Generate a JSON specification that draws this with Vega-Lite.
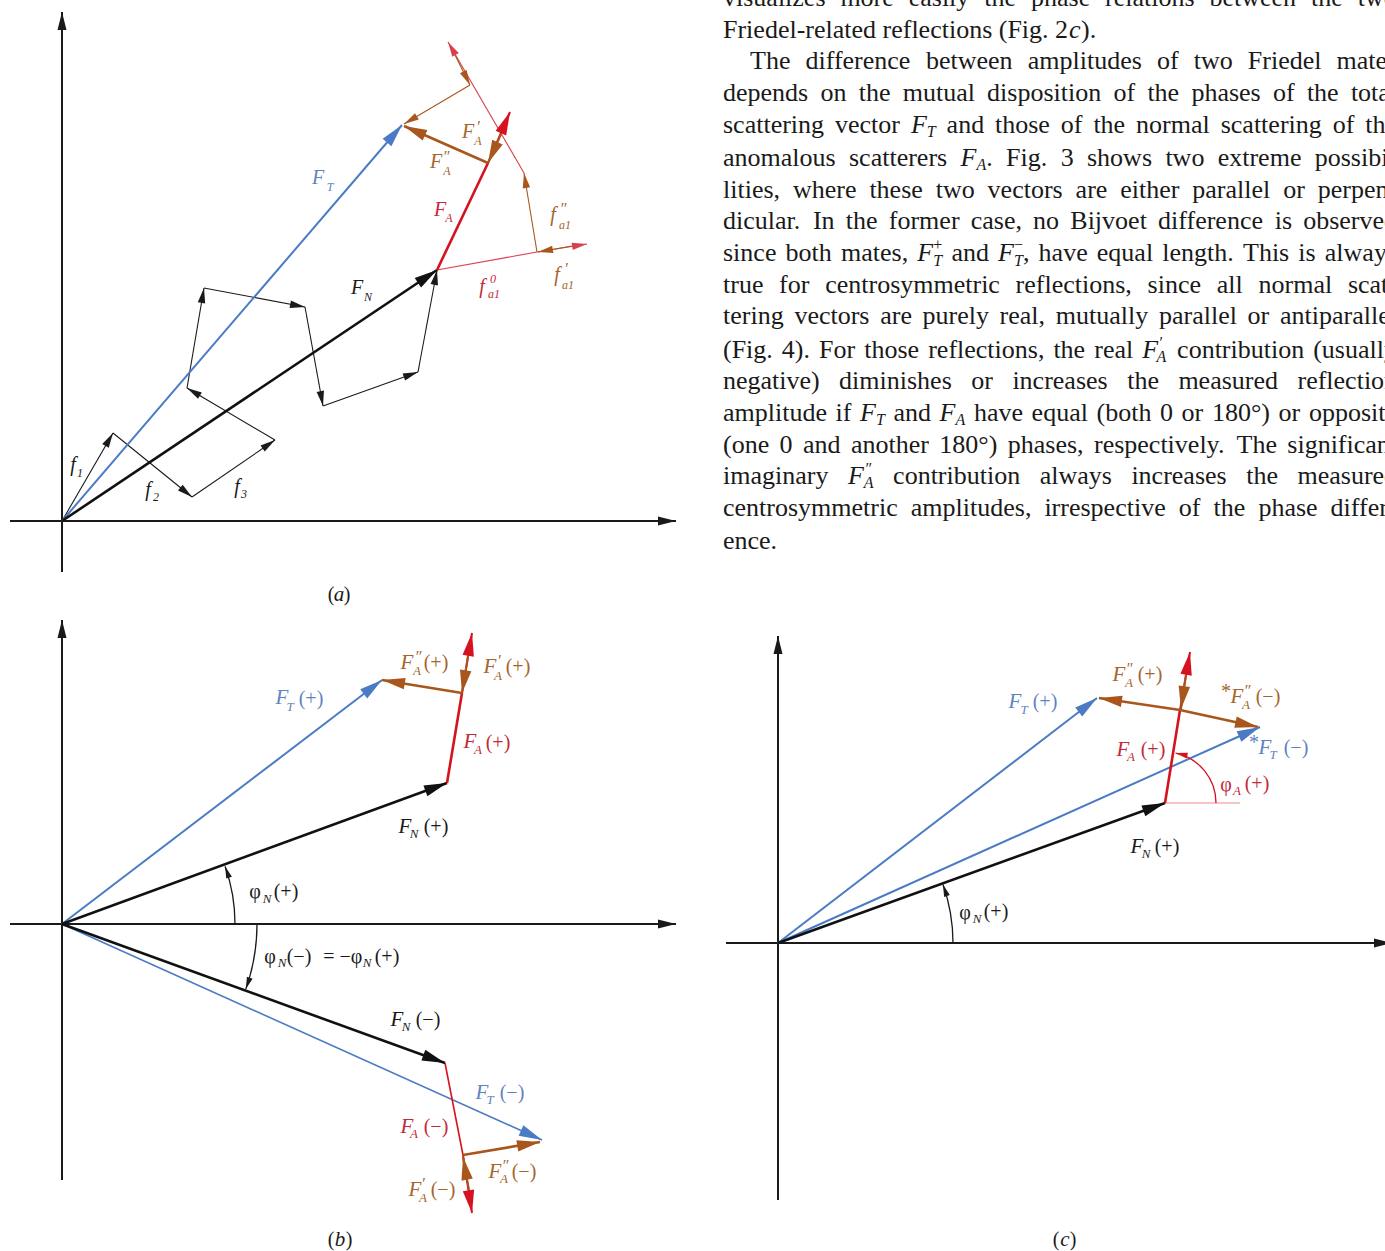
{
  "$schema": "https://vega.github.io/schema/vega-lite/v6.json",
  "width": 1385,
  "height": 1251,
  "autosize": {"type": "none"},
  "padding": 0,
  "background": "white",
  "config": {"view": {"stroke": null}},
  "datasets": {
    "segs": [
      {"f":"a","k":"axis","v":1,"x":62,"y":572,"x2":62,"y2":12},
      {"f":"a","k":"axis","v":1,"x":10,"y":521,"x2":676,"y2":521},
      {"f":"a","k":"atom","v":1,"x":62,"y":521,"x2":113,"y2":433},
      {"f":"a","k":"atom","v":1,"x":113,"y":433,"x2":192,"y2":497},
      {"f":"a","k":"atom","v":1,"x":192,"y":497,"x2":275,"y2":440},
      {"f":"a","k":"atom","v":1,"x":275,"y":440,"x2":187,"y2":388},
      {"f":"a","k":"atom","v":1,"x":187,"y":388,"x2":204,"y2":288},
      {"f":"a","k":"atom","v":1,"x":204,"y":288,"x2":305,"y2":307},
      {"f":"a","k":"atom","v":1,"x":305,"y":307,"x2":323,"y2":406},
      {"f":"a","k":"atom","v":1,"x":323,"y":406,"x2":418,"y2":372},
      {"f":"a","k":"atom","v":1,"x":418,"y":372,"x2":437,"y2":270},
      {"f":"a","k":"FT","v":1,"x":62,"y":521,"x2":402,"y2":125},
      {"f":"a","k":"FN","v":1,"x":62,"y":521,"x2":437,"y2":270},
      {"f":"a","k":"fa0","v":0,"x":437,"y":270,"x2":537,"y2":252},
      {"f":"a","k":"fa0","v":1,"x":537,"y":252,"x2":587,"y2":244},
      {"f":"a","k":"fa1","v":1,"x":572,"y":246,"x2":538,"y2":252},
      {"f":"a","k":"fa1","v":1,"x":537,"y":252,"x2":524,"y2":173},
      {"f":"a","k":"fa0","v":1,"x":524,"y":173,"x2":448,"y2":42},
      {"f":"a","k":"fa1","v":1,"x":455,"y":55,"x2":470,"y2":85},
      {"f":"a","k":"fa1","v":1,"x":470,"y":85,"x2":404,"y2":124},
      {"f":"a","k":"FA","v":0,"x":437,"y":270,"x2":488,"y2":163},
      {"f":"a","k":"f0","v":1,"x":488,"y":163,"x2":510,"y2":112},
      {"f":"a","k":"FA1","v":1,"x":507,"y":121,"x2":488,"y2":163},
      {"f":"a","k":"FA2","v":1,"x":488,"y":163,"x2":404,"y2":126},
      {"f":"b","k":"axis","v":1,"x":62,"y":1180,"x2":62,"y2":620},
      {"f":"b","k":"axis","v":1,"x":10,"y":924,"x2":676,"y2":924},
      {"f":"b","k":"FN","v":1,"x":62,"y":924,"x2":447,"y2":783},
      {"f":"b","k":"FT","v":1,"x":62,"y":924,"x2":382,"y2":680},
      {"f":"b","k":"FA","v":0,"x":447,"y":783,"x2":462,"y2":693},
      {"f":"b","k":"f0","v":1,"x":462,"y":693,"x2":472,"y2":633},
      {"f":"b","k":"FA1","v":1,"x":468,"y":656,"x2":462,"y2":693},
      {"f":"b","k":"FA2","v":1,"x":462,"y":693,"x2":382,"y2":680},
      {"f":"b","k":"FN","v":1,"x":62,"y":924,"x2":445,"y2":1063},
      {"f":"b","k":"FTt","v":1,"x":62,"y":924,"x2":542,"y2":1140},
      {"f":"b","k":"FAt","v":0,"x":445,"y":1063,"x2":463,"y2":1155},
      {"f":"b","k":"FA2","v":1,"x":463,"y":1155,"x2":540,"y2":1142},
      {"f":"b","k":"f0","v":1,"x":463,"y":1155,"x2":472,"y2":1213},
      {"f":"b","k":"FA1","v":1,"x":469,"y":1190,"x2":463,"y2":1157},
      {"f":"c","k":"axis","v":1,"x":778,"y":1200,"x2":778,"y2":636},
      {"f":"c","k":"axis","v":1,"x":726,"y":943,"x2":1392,"y2":943},
      {"f":"c","k":"FN","v":1,"x":778,"y":943,"x2":1165,"y2":803},
      {"f":"c","k":"FT","v":1,"x":778,"y":943,"x2":1097,"y2":698},
      {"f":"c","k":"FT","v":1,"x":778,"y":943,"x2":1260,"y2":727},
      {"f":"c","k":"FA","v":0,"x":1165,"y":803,"x2":1180,"y2":710},
      {"f":"c","k":"f0","v":1,"x":1180,"y":710,"x2":1190,"y2":652},
      {"f":"c","k":"FA1","v":1,"x":1186,"y":675,"x2":1181,"y2":709},
      {"f":"c","k":"FA2","v":1,"x":1180,"y":710,"x2":1099,"y2":698},
      {"f":"c","k":"FA2","v":1,"x":1180,"y":710,"x2":1258,"y2":727},
      {"f":"c","k":"ref","v":0,"x":1165,"y":803,"x2":1240,"y2":803}
    ],
    "arcs": [
      {"k":"arcK","x":62,"y":924,"r":173,"a":70.5,"a2":90},
      {"k":"arcK","x":62,"y":924,"r":195,"a":90,"a2":109.5},
      {"k":"arcK","x":778,"y":943,"r":175,"a":70.5,"a2":90},
      {"k":"arcR","x":1165,"y":803,"r":51,"a":12,"a2":90}
    ],
    "ah": [
      {"k":"arcK","x":228.4,"y":875.7,"x2":225.1,"y2":866.3},
      {"k":"arcK","x":249.1,"y":979.7,"x2":245.8,"y2":989.1},
      {"k":"arcK","x":946.3,"y":894,"x2":943,"y2":884.6},
      {"k":"arcR","x":1185.4,"y":755.2,"x2":1175.6,"y2":753.1}
    ],
    "txt": [
      {"r":"La","k":"tb","t":"F","x":318,"y":178},
      {"r":"Sa","k":"tb","t":"T","x":330,"y":187},
      {"r":"La","k":"tk","t":"F","x":357,"y":288},
      {"r":"Sa","k":"tk","t":"N","x":368,"y":297},
      {"r":"La","k":"tr","t":"F","x":440,"y":210},
      {"r":"Sa","k":"tr","t":"A","x":449,"y":218},
      {"r":"La","k":"tn","t":"F","x":468,"y":132},
      {"r":"P","k":"tn","t":"′","x":478,"y":127},
      {"r":"Sa","k":"tn","t":"A","x":478,"y":141},
      {"r":"La","k":"tn","t":"F","x":436,"y":162},
      {"r":"P","k":"tn","t":"″","x":446,"y":157},
      {"r":"Sa","k":"tn","t":"A","x":447,"y":171},
      {"r":"La","k":"tn","t":"f","x":553,"y":215},
      {"r":"P","k":"tn","t":"″","x":563,"y":209},
      {"r":"Sa","k":"tn","t":"a1","x":565,"y":225},
      {"r":"La","k":"tr","t":"f","x":482,"y":287},
      {"r":"Sa","k":"tr","t":"0","x":493,"y":279},
      {"r":"Sa","k":"tr","t":"a1","x":494,"y":294},
      {"r":"La","k":"tn","t":"f","x":557,"y":275},
      {"r":"P","k":"tn","t":"′","x":566,"y":269},
      {"r":"Sa","k":"tn","t":"a1","x":568,"y":285},
      {"r":"La","k":"tk","t":"f","x":73,"y":465},
      {"r":"Sa","k":"tk","t":"1","x":80,"y":473},
      {"r":"La","k":"tk","t":"f","x":148,"y":490},
      {"r":"Sa","k":"tk","t":"2","x":156,"y":497},
      {"r":"La","k":"tk","t":"f","x":237,"y":487},
      {"r":"Sa","k":"tk","t":"3","x":244,"y":494},
      {"r":"R","k":"tk","t":"(","x":331,"y":595},
      {"r":"L","k":"tk","t":"a","x":339,"y":595},
      {"r":"R","k":"tk","t":")","x":347,"y":595},

      {"r":"L","k":"tn","t":"F","x":407,"y":663},
      {"r":"P","k":"tn","t":"″","x":418,"y":657},
      {"r":"S","k":"tn","t":"A","x":417,"y":671},
      {"r":"R","k":"tn","t":"(+)","x":436,"y":663},
      {"r":"L","k":"tn","t":"F","x":490,"y":667},
      {"r":"P","k":"tn","t":"′","x":499,"y":661},
      {"r":"S","k":"tn","t":"A","x":498,"y":676},
      {"r":"R","k":"tn","t":"(+)","x":518,"y":667},
      {"r":"L","k":"tb","t":"F","x":282,"y":698},
      {"r":"S","k":"tb","t":"T","x":290,"y":707},
      {"r":"R","k":"tb","t":"(+)","x":311,"y":699},
      {"r":"L","k":"tr","t":"F","x":470,"y":742},
      {"r":"S","k":"tr","t":"A","x":478,"y":750},
      {"r":"R","k":"tr","t":"(+)","x":498,"y":743},
      {"r":"L","k":"tk","t":"F","x":405,"y":827},
      {"r":"S","k":"tk","t":"N","x":414,"y":834},
      {"r":"R","k":"tk","t":"(+)","x":436,"y":827},
      {"r":"R","k":"tk","t":"φ","x":255,"y":892},
      {"r":"S","k":"tk","t":"N","x":267,"y":899},
      {"r":"R","k":"tk","t":"(+)","x":286,"y":892},
      {"r":"R","k":"tk","t":"φ","x":270,"y":957},
      {"r":"S","k":"tk","t":"N","x":282,"y":963},
      {"r":"R","k":"tk","t":"(−)","x":299,"y":957},
      {"r":"R","k":"tk","t":"=","x":329,"y":957},
      {"r":"R","k":"tk","t":"−φ","x":351,"y":957},
      {"r":"S","k":"tk","t":"N","x":367,"y":963},
      {"r":"R","k":"tk","t":"(+)","x":387,"y":957},
      {"r":"L","k":"tk","t":"F","x":397,"y":1020},
      {"r":"S","k":"tk","t":"N","x":406,"y":1027},
      {"r":"R","k":"tk","t":"(−)","x":428,"y":1020},
      {"r":"L","k":"tb","t":"F","x":482,"y":1093},
      {"r":"S","k":"tb","t":"T","x":490,"y":1100},
      {"r":"R","k":"tb","t":"(−)","x":512,"y":1093},
      {"r":"L","k":"tr","t":"F","x":407,"y":1127},
      {"r":"S","k":"tr","t":"A","x":414,"y":1134},
      {"r":"R","k":"tr","t":"(−)","x":436,"y":1127},
      {"r":"L","k":"tn","t":"F","x":495,"y":1172},
      {"r":"P","k":"tn","t":"″","x":505,"y":1166},
      {"r":"S","k":"tn","t":"A","x":504,"y":1179},
      {"r":"R","k":"tn","t":"(−)","x":524,"y":1172},
      {"r":"L","k":"tn","t":"F","x":415,"y":1190},
      {"r":"P","k":"tn","t":"′","x":423,"y":1184},
      {"r":"S","k":"tn","t":"A","x":423,"y":1198},
      {"r":"R","k":"tn","t":"(−)","x":443,"y":1190},
      {"r":"R","k":"tk","t":"(","x":331,"y":1240},
      {"r":"L","k":"tk","t":"b","x":340,"y":1240},
      {"r":"R","k":"tk","t":")","x":349,"y":1240},

      {"r":"L","k":"tb","t":"F","x":1015,"y":702},
      {"r":"S","k":"tb","t":"T","x":1024,"y":710},
      {"r":"R","k":"tb","t":"(+)","x":1045,"y":702},
      {"r":"L","k":"tn","t":"F","x":1119,"y":675},
      {"r":"P","k":"tn","t":"″","x":1129,"y":669},
      {"r":"S","k":"tn","t":"A","x":1129,"y":683},
      {"r":"R","k":"tn","t":"(+)","x":1150,"y":675},
      {"r":"R","k":"tn","t":"*","x":1226,"y":692},
      {"r":"L","k":"tn","t":"F","x":1237,"y":697},
      {"r":"P","k":"tn","t":"″","x":1247,"y":691},
      {"r":"S","k":"tn","t":"A","x":1246,"y":705},
      {"r":"R","k":"tn","t":"(−)","x":1268,"y":697},
      {"r":"L","k":"tr","t":"F","x":1123,"y":750},
      {"r":"S","k":"tr","t":"A","x":1131,"y":757},
      {"r":"R","k":"tr","t":"(+)","x":1153,"y":750},
      {"r":"R","k":"tb","t":"*","x":1254,"y":743},
      {"r":"L","k":"tb","t":"F","x":1265,"y":748},
      {"r":"S","k":"tb","t":"T","x":1273,"y":755},
      {"r":"R","k":"tb","t":"(−)","x":1296,"y":748},
      {"r":"R","k":"tr","t":"φ","x":1226,"y":785},
      {"r":"S","k":"tr","t":"A","x":1237,"y":791},
      {"r":"R","k":"tr","t":"(+)","x":1257,"y":784},
      {"r":"L","k":"tk","t":"F","x":1137,"y":847},
      {"r":"S","k":"tk","t":"N","x":1146,"y":854},
      {"r":"R","k":"tk","t":"(+)","x":1167,"y":847},
      {"r":"R","k":"tk","t":"φ","x":965,"y":913},
      {"r":"S","k":"tk","t":"N","x":977,"y":919},
      {"r":"R","k":"tk","t":"(+)","x":996,"y":912},
      {"r":"R","k":"tk","t":"(","x":1056,"y":1240},
      {"r":"L","k":"tk","t":"c","x":1065,"y":1240},
      {"r":"R","k":"tk","t":")","x":1073,"y":1240},

      {"r":"B","k":"tk","t":"visualizes","x":723,"y":-2},
      {"r":"B","k":"tk","t":"more","x":840.4,"y":-2},
      {"r":"B","k":"tk","t":"easily","x":908.7,"y":-2},
      {"r":"B","k":"tk","t":"the","x":984.3,"y":-2},
      {"r":"B","k":"tk","t":"phase","x":1031,"y":-2},
      {"r":"B","k":"tk","t":"relations","x":1105.1,"y":-2},
      {"r":"B","k":"tk","t":"between","x":1209.5,"y":-2},
      {"r":"B","k":"tk","t":"the","x":1311,"y":-2},
      {"r":"B","k":"tk","t":"two","x":1357.7,"y":-2},

      {"r":"B","k":"tk","t":"Friedel-related reflections (Fig. 2","x":723,"y":30},
      {"r":"Bi","k":"tk","t":"c","x":1069,"y":30},
      {"r":"B","k":"tk","t":").","x":1081,"y":30},

      {"r":"B","k":"tk","t":"The","x":750,"y":61},
      {"r":"B","k":"tk","t":"difference","x":805.5,"y":61},
      {"r":"B","k":"tk","t":"between","x":926,"y":61},
      {"r":"B","k":"tk","t":"amplitudes","x":1027.7,"y":61},
      {"r":"B","k":"tk","t":"of","x":1156.9,"y":61},
      {"r":"B","k":"tk","t":"two","x":1193.7,"y":61},
      {"r":"B","k":"tk","t":"Friedel","x":1247.8,"y":61},
      {"r":"B","k":"tk","t":"mates","x":1336.6,"y":61},

      {"r":"B","k":"tk","t":"depends","x":723,"y":93},
      {"r":"B","k":"tk","t":"on","x":820.4,"y":93},
      {"r":"B","k":"tk","t":"the","x":858.7,"y":93},
      {"r":"B","k":"tk","t":"mutual","x":902.7,"y":93},
      {"r":"B","k":"tk","t":"disposition","x":987.1,"y":93},
      {"r":"B","k":"tk","t":"of","x":1113.5,"y":93},
      {"r":"B","k":"tk","t":"the","x":1147.4,"y":93},
      {"r":"B","k":"tk","t":"phases","x":1191.4,"y":93},
      {"r":"B","k":"tk","t":"of","x":1272.9,"y":93},
      {"r":"B","k":"tk","t":"the","x":1306.9,"y":93},
      {"r":"B","k":"tk","t":"total","x":1350.9,"y":93},

      {"r":"B","k":"tk","t":"scattering","x":723,"y":125},
      {"r":"B","k":"tk","t":"vector","x":835,"y":125},
      {"r":"Bi","k":"tk","t":"F","x":910.9,"y":125},
      {"r":"Bs","k":"tk","t":"T","x":926.8,"y":132},
      {"r":"B","k":"tk","t":"and","x":946.6,"y":125},
      {"r":"B","k":"tk","t":"those","x":995,"y":125},
      {"r":"B","k":"tk","t":"of","x":1060.8,"y":125},
      {"r":"B","k":"tk","t":"the","x":1093.4,"y":125},
      {"r":"B","k":"tk","t":"normal","x":1136.1,"y":125},
      {"r":"B","k":"tk","t":"scattering","x":1220.7,"y":125},
      {"r":"B","k":"tk","t":"of","x":1332.7,"y":125},
      {"r":"B","k":"tk","t":"the","x":1365.3,"y":125},

      {"r":"B","k":"tk","t":"anomalous","x":723,"y":158},
      {"r":"B","k":"tk","t":"scatterers","x":849,"y":158},
      {"r":"Bi","k":"tk","t":"F","x":960.6,"y":158},
      {"r":"Bs","k":"tk","t":"A","x":976.5,"y":165},
      {"r":"B","k":"tk","t":".","x":986.3,"y":158},
      {"r":"B","k":"tk","t":"Fig.","x":1006.1,"y":158},
      {"r":"B","k":"tk","t":"3","x":1060.7,"y":158},
      {"r":"B","k":"tk","t":"shows","x":1087,"y":158},
      {"r":"B","k":"tk","t":"two","x":1165.4,"y":158},
      {"r":"B","k":"tk","t":"extreme","x":1217.7,"y":158},
      {"r":"B","k":"tk","t":"possibi-","x":1314.7,"y":158},

      {"r":"B","k":"tk","t":"lities,","x":723,"y":190},
      {"r":"B","k":"tk","t":"where","x":793,"y":190},
      {"r":"B","k":"tk","t":"these","x":869.4,"y":190},
      {"r":"B","k":"tk","t":"two","x":935.7,"y":190},
      {"r":"B","k":"tk","t":"vectors","x":987.6,"y":190},
      {"r":"B","k":"tk","t":"are","x":1075.6,"y":190},
      {"r":"B","k":"tk","t":"either","x":1120.2,"y":190},
      {"r":"B","k":"tk","t":"parallel","x":1192.3,"y":190},
      {"r":"B","k":"tk","t":"or","x":1283.2,"y":190},
      {"r":"B","k":"tk","t":"perpen-","x":1317.8,"y":190},

      {"r":"B","k":"tk","t":"dicular.","x":723,"y":221},
      {"r":"B","k":"tk","t":"In","x":812.9,"y":221},
      {"r":"B","k":"tk","t":"the","x":845.8,"y":221},
      {"r":"B","k":"tk","t":"former","x":888.8,"y":221},
      {"r":"B","k":"tk","t":"case,","x":970.7,"y":221},
      {"r":"B","k":"tk","t":"no","x":1033.1,"y":221},
      {"r":"B","k":"tk","t":"Bijvoet","x":1070.3,"y":221},
      {"r":"B","k":"tk","t":"difference","x":1158.1,"y":221},
      {"r":"B","k":"tk","t":"is","x":1274.7,"y":221},
      {"r":"B","k":"tk","t":"observed","x":1303.2,"y":221},

      {"r":"B","k":"tk","t":"since","x":723,"y":253},
      {"r":"B","k":"tk","t":"both","x":785.6,"y":253},
      {"r":"B","k":"tk","t":"mates,","x":841,"y":253},
      {"r":"Bi","k":"tk","t":"F","x":917.3,"y":253},
      {"r":"Bp","k":"tk","t":"+","x":933.2,"y":245},
      {"r":"Bs","k":"tk","t":"T","x":933.2,"y":261},
      {"r":"B","k":"tk","t":"and","x":951.4,"y":253},
      {"r":"Bi","k":"tk","t":"F","x":998,"y":253},
      {"r":"Bp","k":"tk","t":"−","x":1013.9,"y":245},
      {"r":"Bs","k":"tk","t":"T","x":1013.9,"y":261},
      {"r":"B","k":"tk","t":",","x":1022.9,"y":253},
      {"r":"B","k":"tk","t":"have","x":1038.6,"y":253},
      {"r":"B","k":"tk","t":"equal","x":1096.8,"y":253},
      {"r":"B","k":"tk","t":"length.","x":1162.3,"y":253},
      {"r":"B","k":"tk","t":"This","x":1243,"y":253},
      {"r":"B","k":"tk","t":"is","x":1298.3,"y":253},
      {"r":"B","k":"tk","t":"always","x":1324.8,"y":253},

      {"r":"B","k":"tk","t":"true","x":723,"y":285},
      {"r":"B","k":"tk","t":"for","x":779.1,"y":285},
      {"r":"B","k":"tk","t":"centrosymmetric","x":825.2,"y":285},
      {"r":"B","k":"tk","t":"reflections,","x":1015.6,"y":285},
      {"r":"B","k":"tk","t":"since","x":1147.6,"y":285},
      {"r":"B","k":"tk","t":"all","x":1216.7,"y":285},
      {"r":"B","k":"tk","t":"normal","x":1258.5,"y":285},
      {"r":"B","k":"tk","t":"scat-","x":1347.9,"y":285},

      {"r":"B","k":"tk","t":"tering","x":723,"y":316},
      {"r":"B","k":"tk","t":"vectors","x":794.4,"y":316},
      {"r":"B","k":"tk","t":"are","x":880.2,"y":316},
      {"r":"B","k":"tk","t":"purely","x":922.5,"y":316},
      {"r":"B","k":"tk","t":"real,","x":999.6,"y":316},
      {"r":"B","k":"tk","t":"mutually","x":1055.8,"y":316},
      {"r":"B","k":"tk","t":"parallel","x":1159,"y":316},
      {"r":"B","k":"tk","t":"or","x":1247.6,"y":316},
      {"r":"B","k":"tk","t":"antiparallel","x":1280,"y":316},

      {"r":"B","k":"tk","t":"(Fig.","x":723,"y":350},
      {"r":"B","k":"tk","t":"4).","x":781.8,"y":350},
      {"r":"B","k":"tk","t":"For","x":819.1,"y":350},
      {"r":"B","k":"tk","t":"those","x":864.2,"y":350},
      {"r":"B","k":"tk","t":"reflections,","x":928.2,"y":350},
      {"r":"B","k":"tk","t":"the","x":1053.4,"y":350},
      {"r":"B","k":"tk","t":"real","x":1094.3,"y":350},
      {"r":"Bi","k":"tk","t":"F","x":1142.3,"y":350},
      {"r":"Bs","k":"tk","t":"′","x":1158.5,"y":343},
      {"r":"Bs","k":"tk","t":"A","x":1156.5,"y":357},
      {"r":"B","k":"tk","t":"contribution","x":1177.1,"y":350},
      {"r":"B","k":"tk","t":"(usually","x":1313.2,"y":350},

      {"r":"B","k":"tk","t":"negative)","x":723,"y":381},
      {"r":"B","k":"tk","t":"diminishes","x":839.1,"y":381},
      {"r":"B","k":"tk","t":"or","x":971.3,"y":381},
      {"r":"B","k":"tk","t":"increases","x":1012.4,"y":381},
      {"r":"B","k":"tk","t":"the","x":1127.2,"y":381},
      {"r":"B","k":"tk","t":"measured","x":1178.4,"y":381},
      {"r":"B","k":"tk","t":"reflection","x":1297.5,"y":381},

      {"r":"B","k":"tk","t":"amplitude","x":723,"y":413},
      {"r":"B","k":"tk","t":"if","x":835.6,"y":413},
      {"r":"Bi","k":"tk","t":"F","x":860.1,"y":413},
      {"r":"Bs","k":"tk","t":"T","x":876,"y":420},
      {"r":"B","k":"tk","t":"and","x":893.5,"y":413},
      {"r":"Bi","k":"tk","t":"F","x":939.6,"y":413},
      {"r":"Bs","k":"tk","t":"A","x":955.5,"y":420},
      {"r":"B","k":"tk","t":"have","x":973.9,"y":413},
      {"r":"B","k":"tk","t":"equal","x":1031.6,"y":413},
      {"r":"B","k":"tk","t":"(both","x":1096.5,"y":413},
      {"r":"B","k":"tk","t":"0","x":1160,"y":413},
      {"r":"B","k":"tk","t":"or","x":1181.6,"y":413},
      {"r":"B","k":"tk","t":"180°)","x":1211.9,"y":413},
      {"r":"B","k":"tk","t":"or","x":1278.6,"y":413},
      {"r":"B","k":"tk","t":"opposite","x":1308.9,"y":413},

      {"r":"B","k":"tk","t":"(one","x":723,"y":445},
      {"r":"B","k":"tk","t":"0","x":779.6,"y":445},
      {"r":"B","k":"tk","t":"and","x":803,"y":445},
      {"r":"B","k":"tk","t":"another","x":850.9,"y":445},
      {"r":"B","k":"tk","t":"180°)","x":939.3,"y":445},
      {"r":"B","k":"tk","t":"phases,","x":1007.8,"y":445},
      {"r":"B","k":"tk","t":"respectively.","x":1094,"y":445},
      {"r":"B","k":"tk","t":"The","x":1236.5,"y":445},
      {"r":"B","k":"tk","t":"significant","x":1287.3,"y":445},

      {"r":"B","k":"tk","t":"imaginary","x":723,"y":476},
      {"r":"Bi","k":"tk","t":"F","x":847.9,"y":476},
      {"r":"Bs","k":"tk","t":"″","x":864.5,"y":469},
      {"r":"Bs","k":"tk","t":"A","x":863.8,"y":483},
      {"r":"B","k":"tk","t":"contribution","x":893.1,"y":476},
      {"r":"B","k":"tk","t":"always","x":1039.7,"y":476},
      {"r":"B","k":"tk","t":"increases","x":1131.4,"y":476},
      {"r":"B","k":"tk","t":"the","x":1246.2,"y":476},
      {"r":"B","k":"tk","t":"measured","x":1297.5,"y":476},

      {"r":"B","k":"tk","t":"centrosymmetric","x":723,"y":508},
      {"r":"B","k":"tk","t":"amplitudes,","x":910.8,"y":508},
      {"r":"B","k":"tk","t":"irrespective","x":1044.4,"y":508},
      {"r":"B","k":"tk","t":"of","x":1178.8,"y":508},
      {"r":"B","k":"tk","t":"the","x":1213.5,"y":508},
      {"r":"B","k":"tk","t":"phase","x":1258.4,"y":508},
      {"r":"B","k":"tk","t":"differ-","x":1330.6,"y":508},

      {"r":"B","k":"tk","t":"ence.","x":723,"y":541}
    ]
  },
  "encoding": {
    "x": {"field": "x", "type": "quantitative", "scale": {"domain": [0, 1385], "nice": false, "zero": false}, "axis": null},
    "y": {"field": "y", "type": "quantitative", "scale": {"domain": [0, 1251], "nice": false, "zero": false, "reverse": true}, "axis": null},
    "color": {
      "field": "k", "type": "nominal", "legend": null,
      "scale": {
        "domain": ["axis","FN","atom","FT","FTt","FA","FAt","f0","FA1","FA2","fa0","fa1","ref","arcK","arcR","tk","tb","tr","tn"],
        "range": ["#1a1a1a","#111111","#1a1a1a","#4a7bc4","#4a7bc4","#d5121e","#d5121e","#d5121e","#a8561c","#a8561c","#d8404c","#a8561c","#f08a8a","#1a1a1a","#d5121e","#1a1a1a","#5f83c2","#c22a3a","#a5652c"]
      }
    }
  },
  "layer": [
    {
      "data": {"name": "segs"},
      "transform": [{"filter": {"field": "k", "oneOf": ["atom", "fa0", "fa1", "ref"]}}],
      "mark": {"type": "rule", "strokeWidth": 1.1},
      "encoding": {"x2": {"field": "x2"}, "y2": {"field": "y2"}}
    },
    {
      "data": {"name": "segs"},
      "transform": [{"filter": {"field": "k", "oneOf": ["FTt", "FAt"]}}],
      "mark": {"type": "rule", "strokeWidth": 1.6},
      "encoding": {"x2": {"field": "x2"}, "y2": {"field": "y2"}}
    },
    {
      "data": {"name": "segs"},
      "transform": [{"filter": {"field": "k", "oneOf": ["axis", "FT", "f0", "FA1"]}}],
      "mark": {"type": "rule", "strokeWidth": 2.0},
      "encoding": {"x2": {"field": "x2"}, "y2": {"field": "y2"}}
    },
    {
      "data": {"name": "segs"},
      "transform": [{"filter": {"field": "k", "oneOf": ["FN", "FA", "FA2"]}}],
      "mark": {"type": "rule", "strokeWidth": 2.6},
      "encoding": {"x2": {"field": "x2"}, "y2": {"field": "y2"}}
    },
    {
      "data": {"name": "arcs"},
      "mark": {"type": "arc", "filled": false, "strokeWidth": 1.3},
      "encoding": {
        "theta": {"field": "a", "type": "quantitative", "stack": null, "scale": {"type": "linear", "domain": [0, 360], "range": [0, 6.283185307179586]}},
        "theta2": {"field": "a2"},
        "radius": {"field": "r", "type": "quantitative", "scale": {"type": "linear", "domain": [0, 200], "range": [0, 200], "zero": true}},
        "radius2": {"field": "r"}
      }
    },
    {
      "data": {"name": "segs"},
      "transform": [
        {"filter": {"and": [{"field": "v", "equal": 1}, {"field": "k", "oneOf": ["atom", "fa0", "fa1"]}]}},
        {"calculate": "atan2(datum.x2 - datum.x, datum.y - datum.y2) * 180 / PI", "as": "ang"}
      ],
      "mark": {"type": "point", "shape": "M0,0L-0.5,2L0.5,2Z", "filled": true, "opacity": 1, "size": 225, "strokeWidth": 0},
      "encoding": {
        "x": {"field": "x2", "type": "quantitative", "scale": {"domain": [0, 1385], "nice": false, "zero": false}, "axis": null},
        "y": {"field": "y2", "type": "quantitative", "scale": {"domain": [0, 1251], "nice": false, "zero": false, "reverse": true}, "axis": null},
        "angle": {"field": "ang", "type": "quantitative", "scale": null}
      }
    },
    {
      "data": {"name": "segs"},
      "transform": [
        {"filter": {"and": [{"field": "v", "equal": 1}, {"field": "k", "oneOf": ["axis"]}]}},
        {"calculate": "atan2(datum.x2 - datum.x, datum.y - datum.y2) * 180 / PI", "as": "ang"}
      ],
      "mark": {"type": "point", "shape": "M0,0L-0.5,2L0.5,2Z", "filled": true, "opacity": 1, "size": 324, "strokeWidth": 0},
      "encoding": {
        "x": {"field": "x2", "type": "quantitative", "scale": {"domain": [0, 1385], "nice": false, "zero": false}, "axis": null},
        "y": {"field": "y2", "type": "quantitative", "scale": {"domain": [0, 1251], "nice": false, "zero": false, "reverse": true}, "axis": null},
        "angle": {"field": "ang", "type": "quantitative", "scale": null}
      }
    },
    {
      "data": {"name": "segs"},
      "transform": [
        {"filter": {"and": [{"field": "v", "equal": 1}, {"field": "k", "oneOf": ["FN", "FT", "FTt", "f0", "FA1", "FA2"]}]}},
        {"calculate": "atan2(datum.x2 - datum.x, datum.y - datum.y2) * 180 / PI", "as": "ang"}
      ],
      "mark": {"type": "point", "shape": "M0,0L-0.5,2L0.5,2Z", "filled": true, "opacity": 1, "size": 529, "strokeWidth": 0},
      "encoding": {
        "x": {"field": "x2", "type": "quantitative", "scale": {"domain": [0, 1385], "nice": false, "zero": false}, "axis": null},
        "y": {"field": "y2", "type": "quantitative", "scale": {"domain": [0, 1251], "nice": false, "zero": false, "reverse": true}, "axis": null},
        "angle": {"field": "ang", "type": "quantitative", "scale": null}
      }
    },
    {
      "data": {"name": "ah"},
      "transform": [
        {"calculate": "atan2(datum.x2 - datum.x, datum.y - datum.y2) * 180 / PI", "as": "ang"}
      ],
      "mark": {"type": "point", "shape": "M0,0L-0.5,2L0.5,2Z", "filled": true, "opacity": 1, "size": 144, "strokeWidth": 0},
      "encoding": {
        "x": {"field": "x2", "type": "quantitative", "scale": {"domain": [0, 1385], "nice": false, "zero": false}, "axis": null},
        "y": {"field": "y2", "type": "quantitative", "scale": {"domain": [0, 1251], "nice": false, "zero": false, "reverse": true}, "axis": null},
        "angle": {"field": "ang", "type": "quantitative", "scale": null}
      }
    },
    {
      "data": {"name": "txt"},
      "transform": [{"filter": {"field": "r", "equal": "L"}}],
      "mark": {"type": "text", "font": "Liberation Serif", "fontStyle": "italic", "fontSize": 21, "align": "center", "baseline": "middle"},
      "encoding": {"text": {"field": "t"}}
    },
    {
      "data": {"name": "txt"},
      "transform": [{"filter": {"field": "r", "equal": "La"}}],
      "mark": {"type": "text", "font": "Liberation Serif", "fontStyle": "italic", "fontSize": 20, "align": "center", "baseline": "middle"},
      "encoding": {"text": {"field": "t"}}
    },
    {
      "data": {"name": "txt"},
      "transform": [{"filter": {"field": "r", "equal": "S"}}],
      "mark": {"type": "text", "font": "Liberation Serif", "fontStyle": "italic", "fontSize": 13, "align": "center", "baseline": "middle"},
      "encoding": {"text": {"field": "t"}}
    },
    {
      "data": {"name": "txt"},
      "transform": [{"filter": {"field": "r", "equal": "Sa"}}],
      "mark": {"type": "text", "font": "Liberation Serif", "fontStyle": "italic", "fontSize": 12, "align": "center", "baseline": "middle"},
      "encoding": {"text": {"field": "t"}}
    },
    {
      "data": {"name": "txt"},
      "transform": [{"filter": {"field": "r", "equal": "P"}}],
      "mark": {"type": "text", "font": "Liberation Serif", "fontStyle": "italic", "fontSize": 16, "align": "center", "baseline": "middle"},
      "encoding": {"text": {"field": "t"}}
    },
    {
      "data": {"name": "txt"},
      "transform": [{"filter": {"field": "r", "equal": "R"}}],
      "mark": {"type": "text", "font": "Liberation Serif", "fontSize": 20, "align": "center", "baseline": "middle"},
      "encoding": {"text": {"field": "t"}}
    },
    {
      "data": {"name": "txt"},
      "transform": [{"filter": {"field": "r", "equal": "B"}}],
      "mark": {"type": "text", "font": "Liberation Serif", "fontSize": 26, "align": "left", "baseline": "middle"},
      "encoding": {"text": {"field": "t"}}
    },
    {
      "data": {"name": "txt"},
      "transform": [{"filter": {"field": "r", "equal": "Bi"}}],
      "mark": {"type": "text", "font": "Liberation Serif", "fontStyle": "italic", "fontSize": 26, "align": "left", "baseline": "middle"},
      "encoding": {"text": {"field": "t"}}
    },
    {
      "data": {"name": "txt"},
      "transform": [{"filter": {"field": "r", "equal": "Bs"}}],
      "mark": {"type": "text", "font": "Liberation Serif", "fontStyle": "italic", "fontSize": 16, "align": "left", "baseline": "middle"},
      "encoding": {"text": {"field": "t"}}
    },
    {
      "data": {"name": "txt"},
      "transform": [{"filter": {"field": "r", "equal": "Bp"}}],
      "mark": {"type": "text", "font": "Liberation Serif", "fontSize": 16, "align": "left", "baseline": "middle"},
      "encoding": {"text": {"field": "t"}}
    }
  ]
}
